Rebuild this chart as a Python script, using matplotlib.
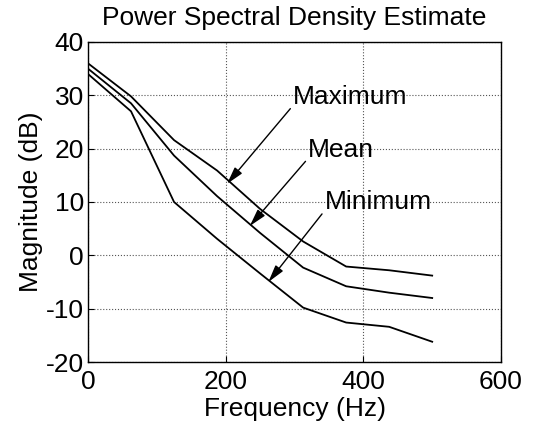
import matplotlib
matplotlib.use("Agg")
import matplotlib.pyplot as plt

plt.rcParams['font.family'] = ['Liberation Sans', 'DejaVu Sans']
plt.rcParams['axes.unicode_minus'] = False

freq = [0, 62.5, 125, 187.5, 250, 312.5, 375, 437.5, 500]
maximum = [36.0, 29.8, 21.6, 15.9, 8.7, 2.6, -2.1, -2.8, -3.8]
mean = [35.0, 28.5, 18.7, 11.1, 4.2, -2.3, -5.8, -7.0, -8.0]
minimum = [34.0, 27.0, 10.0, 3.1, -3.4, -9.8, -12.6, -13.4, -16.2]

labels = ["Maximum", "Mean", "Minimum"]
label_pos = [(298, 29.7), (320, 19.8), (344, 10.0)]
arrow_tip = [(202, 13.4), (235, 5.5), (262, -5.0)]

fig = plt.figure(figsize=(5.35, 4.36), dpi=100)
ax = fig.add_axes([0.1645, 0.1697, 0.772, 0.734])

for series in (maximum, mean, minimum):
    ax.plot(freq, series, color='black', lw=1.3)

for lab, (tx, ty), (ax_, ay) in zip(labels, label_pos, arrow_tip):
    ax.annotate(lab, xy=(ax_, ay), xytext=(tx, ty), fontsize=19,
                ha='left', va='center', color='black',
                arrowprops=dict(arrowstyle='-|>,head_length=0.55,head_width=0.15',
                                color='black', lw=1.0, shrinkA=0, shrinkB=0,
                                relpos=(0, 0.15)))

ax.set_xlim(0, 600)
ax.set_ylim(-20, 40)
ax.set_xticks([0, 200, 400, 600])
ax.set_yticks([-20, -10, 0, 10, 20, 30, 40])
ax.grid(True, linestyle=':', color='#555555', lw=0.8)
ax.tick_params(direction='in', labelsize=19, length=4)
ax.tick_params(axis='x', pad=6)
ax.tick_params(axis='y', pad=3)
for s in ax.spines.values():
    s.set_color('black')
    s.set_linewidth(1.0)

ax.set_title("Power Spectral Density Estimate", fontsize=19, pad=12)
ax.set_xlabel("Frequency (Hz)", fontsize=19, labelpad=2)
ax.set_ylabel("Magnitude (dB)", fontsize=19, labelpad=2)

fig.savefig("out.png", dpi=100)
